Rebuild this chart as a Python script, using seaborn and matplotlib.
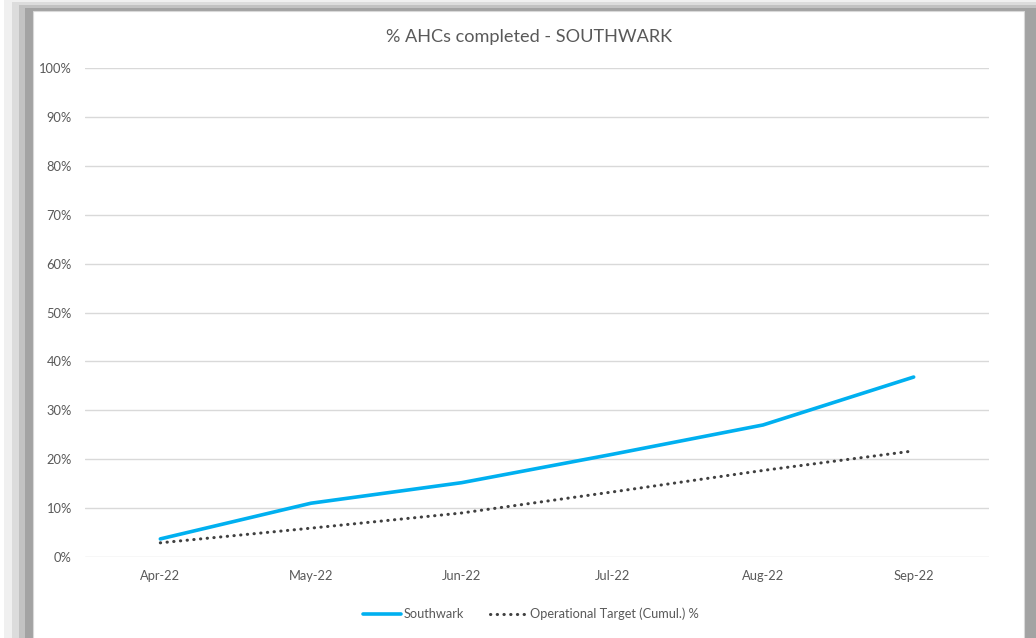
import pandas as pd
import numpy as np
import matplotlib.pyplot as plt
import seaborn as sns
from matplotlib.patches import Rectangle
from matplotlib.ticker import PercentFormatter

# data (percent)
months = ["Apr-22", "May-22", "Jun-22", "Jul-22", "Aug-22", "Sep-22"]
southwark = [3.7, 11.0, 15.2, 21.0, 27.0, 36.8]
target = [2.9, 5.9, 9.0, 13.3, 17.7, 21.7]

df = pd.DataFrame({"month": months, "Southwark": southwark,
                   "Operational Target (Cumul.) %": target})

sns.set_style("white")
plt.rcParams["font.family"] = ["Lato", "DejaVu Sans"]

fig = plt.figure(figsize=(10.36, 6.38), dpi=100)
fig.patch.set_facecolor("white")
W, H = 1036, 638


def box(x0, y0, x1, y1, col, ec="none"):
    # rectangle in pixel coords (y from top)
    fig.patches.append(Rectangle((x0 / W, 1 - y1 / H), (x1 - x0) / W, (y1 - y0) / H,
                                 transform=fig.transFigure, facecolor=col,
                                 edgecolor=ec, lw=0.8, zorder=-5))


# shadowed frame around the chart area (screenshot look)
box(4, 0, 1036, 638, "#f0f0f0")
box(12, 2, 1036, 638, "#dcdcdc")
box(19, 5, 1036, 638, "#c2c2c2")
box(25, 8, 1036, 638, "#a3a3a3")
box(33, 11, 1024, 640, "white", ec="#d9d9d9")

ax = fig.add_axes([85 / W, (638 - 557) / H, (989 - 85) / W, (557 - 68) / H])
ax.set_facecolor("none")
ax.set_zorder(2)

sns.lineplot(data=df, x="month", y="Southwark", ax=ax, color="#00B0F0",
             lw=2.6, label="Southwark", sort=False)
sns.lineplot(data=df, x="month", y="Operational Target (Cumul.) %", ax=ax,
             color="#404040", lw=2.2, linestyle=(0, (0.1, 2.1)),
             label="Operational Target (Cumul.) %", sort=False)
for l in ax.lines:
    l.set_solid_capstyle("round")
    l.set_dash_capstyle("round")

ax.set_ylim(0, 100)
ax.set_xlim(-0.5, 5.5)
ax.set_yticks(np.arange(0, 101, 10))
ax.yaxis.set_major_formatter(PercentFormatter(decimals=0))
ax.grid(axis="y", color="#d9d9d9", lw=1)
ax.grid(axis="x", visible=False)
for s in ax.spines.values():
    s.set_visible(False)
ax.tick_params(axis="both", length=0, labelsize=9.3, labelcolor="#595959")
ax.tick_params(axis="y", pad=9.5)
ax.tick_params(axis="x", pad=9)
ax.set_xlabel("")
ax.set_ylabel("")

fig.text(529 / W, 1 - 37 / H, "% AHCs completed - SOUTHWARK", ha="center",
         va="center", fontsize=13.1, color="#595959")

ax.legend(loc="center", bbox_to_anchor=(531 / W, 1 - 614 / H),
          bbox_transform=fig.transFigure, ncol=2, frameon=False,
          fontsize=9.2, labelcolor="#595959", handlelength=3.0,
          handletextpad=0.2, columnspacing=2.0)

fig.savefig("out.png", dpi=100)
